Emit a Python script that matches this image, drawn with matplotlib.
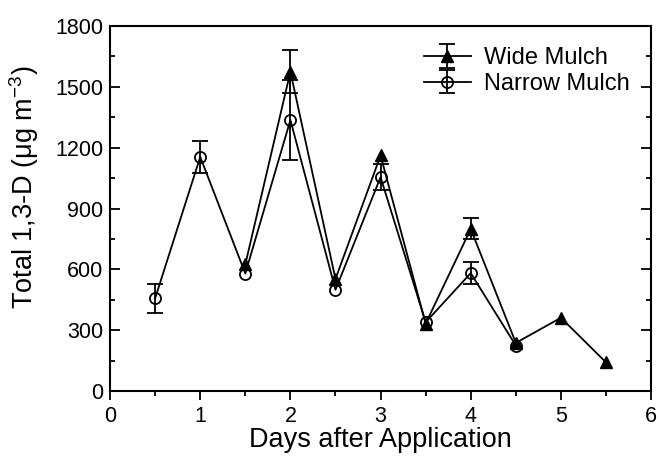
import numpy as np
import matplotlib.pyplot as plt
from matplotlib.ticker import MultipleLocator

plt.rcParams['font.family'] = ['Liberation Sans', 'DejaVu Sans']

# Wide mulch (nan = no error bar drawn)
wide_days = [1.5, 2.0, 2.5, 3.0, 3.5, 4.0, 4.5, 5.0, 5.5]
wide_vals = [625, 1575, 553, 1162, 333, 800, 238, 362, 142]
wide_err = [np.nan, 105, np.nan, np.nan, np.nan, 52, np.nan, np.nan, np.nan]

# Narrow mulch
narrow_days = [0.5, 1.0, 1.5, 2.0, 2.5, 3.0, 3.5, 4.0, 4.5]
narrow_vals = [458, 1155, 580, 1337, 500, 1055, 340, 582, 225]
narrow_err = [72, 80, np.nan, 195, np.nan, 65, np.nan, 55, np.nan]

fig = plt.figure(figsize=(6.59, 4.57), dpi=100)
ax = fig.add_axes([0.167, 0.144, 0.821, 0.799])

ax.errorbar(wide_days, wide_vals, yerr=wide_err, color='black', marker='^',
            markersize=8.5, markerfacecolor='black', linewidth=1.3,
            capsize=5.5, capthick=1.3, elinewidth=1.3, label='Wide Mulch')
ax.errorbar(narrow_days, narrow_vals, yerr=narrow_err, color='black', marker='o',
            markersize=8, markerfacecolor='none', markeredgewidth=1.3, linewidth=1.3,
            capsize=5.5, capthick=1.3, elinewidth=1.3, label='Narrow Mulch')

ax.set_xlim(0, 6)
ax.set_ylim(0, 1800)
ax.xaxis.set_major_locator(MultipleLocator(1))
ax.xaxis.set_minor_locator(MultipleLocator(0.5))
ax.yaxis.set_major_locator(MultipleLocator(300))
ax.yaxis.set_minor_locator(MultipleLocator(150))

ax.tick_params(axis='x', which='both', direction='out', top=False, labelsize=15.5, pad=4)
ax.tick_params(axis='x', which='major', length=6.5, width=1.3)
ax.tick_params(axis='x', which='minor', length=3.6, width=1.3)
ax.tick_params(axis='y', which='both', direction='in', right=True, labelsize=15.5, pad=5)
ax.tick_params(axis='y', which='major', length=7, width=1.3)
ax.tick_params(axis='y', which='minor', length=3.6, width=1.3)

for s in ax.spines.values():
    s.set_linewidth(1.5)

ax.set_xlabel('Days after Application', fontsize=19.5, labelpad=0)
ax.set_ylabel('Total 1,3-D ($\\mathregular{\\mu}$g m$^{\\mathregular{-3}}$)', fontsize=19.5)
ax.yaxis.set_label_coords(-0.128, 0.56)

ax.legend(loc='upper right', frameon=False, fontsize=17, handlelength=2.0,
          borderaxespad=0.5, handletextpad=0.55, labelspacing=0.15)

fig.savefig('out.png', dpi=100)
